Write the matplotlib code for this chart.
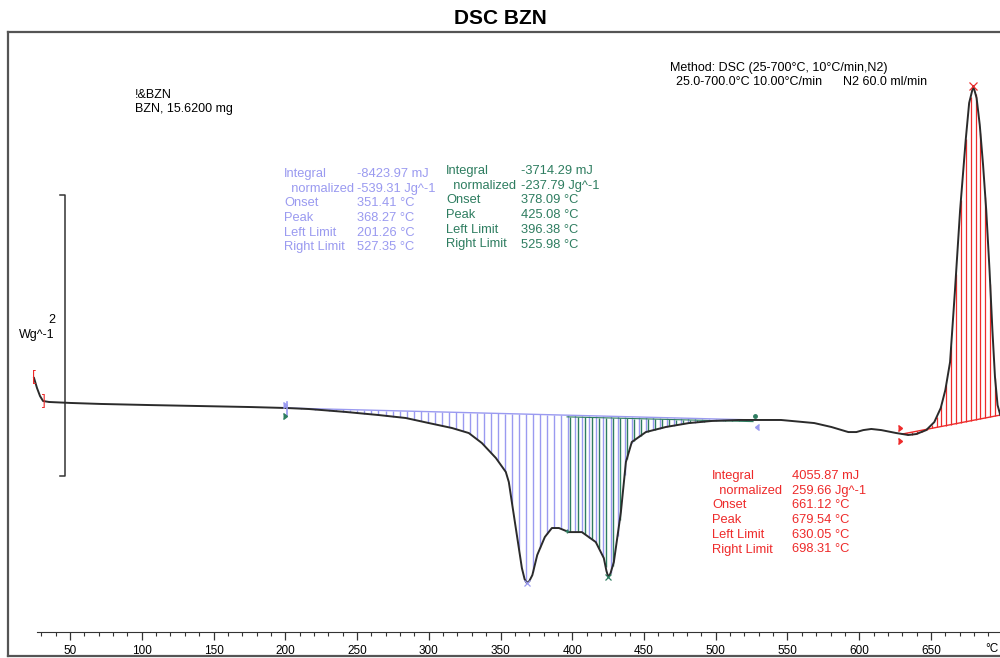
import numpy as np
import matplotlib.pyplot as plt
from matplotlib.lines import Line2D

# DSC curve (temperature in C, heat flow in W/g, offset arbitrary)
temp = [24.9, 27.0, 29.1, 31.2, 35.4, 50.7, 71.6, 106.4, 141.3, 176.1, 201.3, 216.5,
        242.2, 265.2, 284.0, 300.1, 316.1, 327.9, 337.0, 346.8, 353.7, 355.8, 357.9,
        361.4, 364.9, 366.8, 368.3, 370.0, 372.2, 375.6, 380.9, 385.8, 390.7, 397.6,
        406.7, 416.4, 422.0, 423.8, 425.1, 426.6, 429.0, 433.9, 437.4, 441.5, 451.3,
        465.2, 481.3, 497.3, 516.1, 527.4, 545.5, 568.7, 580.6, 592.4, 598.0, 602.8,
        608.4, 615.4, 625.8, 630.1, 634.2, 639.8, 646.7, 652.3, 656.8, 660.0, 663.3,
        666.6, 670.3, 674.2, 676.6, 679.5, 681.8, 684.0, 686.3, 688.5, 690.8, 692.8,
        694.6, 696.4, 698.3]
heat = [0.157, 0.085, 0.028, -0.007, -0.014, -0.021, -0.028, -0.036, -0.043, -0.050,
        -0.057, -0.064, -0.085, -0.107, -0.128, -0.164, -0.199, -0.235, -0.306, -0.413,
        -0.512, -0.584, -0.726, -0.961, -1.196, -1.275, -1.302, -1.290, -1.246, -1.103,
        -0.975, -0.911, -0.911, -0.940, -0.940, -1.011, -1.125, -1.215, -1.260, -1.235,
        -1.153, -0.797, -0.441, -0.299, -0.228, -0.192, -0.164, -0.149, -0.142, -0.142,
        -0.142, -0.164, -0.192, -0.228, -0.228, -0.214, -0.206, -0.214, -0.235, -0.242,
        -0.249, -0.242, -0.214, -0.157, -0.057, 0.071, 0.270, 0.762, 1.352, 1.851, 2.114,
        2.235, 2.149, 1.957, 1.673, 1.352, 0.925, 0.498, 0.164, -0.036, -0.107]

# integration limits and peaks
blue_lim = [201.26, 527.35]
green_lim = [396.38, 525.98]
red_lim = [630.05, 698.31]
peaks = [368.27, 425.08, 679.54]

x_ticks = [50, 100, 150, 200, 250, 300, 350, 400, 450, 500, 550, 600, 650]

labels = ['Integral', '  normalized', 'Onset', 'Peak', 'Left Limit', 'Right Limit']
blue_vals = ['-8423.97 mJ', '-539.31 Jg^-1', '351.41 °C', '368.27 °C', '201.26 °C', '527.35 °C']
green_vals = ['-3714.29 mJ', '-237.79 Jg^-1', '378.09 °C', '425.08 °C', '396.38 °C', '525.98 °C']
red_vals = ['4055.87 mJ', '259.66 Jg^-1', '661.12 °C', '679.54 °C', '630.05 °C', '698.31 °C']

blue_c = '#9a9af0'
green_c = '#2e7d60'
red_c = '#ee2a2a'
curve_c = '#2b2b2b'

plt.rcParams['font.family'] = ['Liberation Sans', 'DejaVu Sans']

W, H = 1000, 658
fig = plt.figure(figsize=(10, 6.58), dpi=100)

def fx(px):
    return px / W

def fy(py):
    return 1 - py / H

ax = fig.add_axes([0, 26 / H, 1, 632 / H])
ax.set_xlim(1.2, 698.1)
ax.set_ylim(-1.651, 2.847)
ax.patch.set_alpha(0)
for s in ['top', 'left', 'right']:
    ax.spines[s].set_visible(False)
ax.spines['bottom'].set_bounds(27, 698.1)
ax.spines['bottom'].set_color('#333333')
ax.set_yticks([])
ax.set_xticks(x_ticks)
ax.set_xticks(np.arange(30, 700, 10), minor=True)
ax.tick_params(axis='x', which='major', length=6, width=0.9, color='#333333',
               labelsize=8.5, pad=3)
ax.tick_params(axis='x', which='minor', length=3, width=0.8, color='#333333')
for lab in ax.get_xticklabels():
    lab.set_family(['Liberation Sans Narrow', 'Liberation Sans', 'DejaVu Sans'])
fig.text(fx(999), fy(649), '°C', ha='right', va='center', fontsize=8.5)

t = np.array(temp)
h = np.array(heat)

# blue integral hatch
bx = np.arange(blue_lim[0], blue_lim[1], 4.9)
b_curve = np.interp(bx, t, h)
b_y0 = np.interp(blue_lim[0], t, h)
b_y1 = np.interp(blue_lim[1], t, h)
b_base = np.interp(bx, blue_lim, [b_y0, b_y1])
ax.vlines(bx, b_base, b_curve, color=blue_c, lw=1.0, zorder=1)
ax.plot(blue_lim, [b_y0, b_y1], color=blue_c, lw=1.0, zorder=1)

# green integral hatch
gx = np.arange(green_lim[0] + 2.4, green_lim[1], 4.9)
g_curve = np.interp(gx, t, h)
g_base = np.interp(gx, blue_lim, [b_y0, b_y1]) - 0.012
ax.vlines(gx, g_base, g_curve, color=green_c, lw=1.0, zorder=1.5)
ax.plot(green_lim, np.interp(green_lim, blue_lim, [b_y0, b_y1]) - 0.012,
        color=green_c, lw=0.8, zorder=1.5)

# red integral hatch
rx = np.arange(red_lim[0], red_lim[1], 3.4)
r_curve = np.interp(rx, t, h)
r_y0 = np.interp(red_lim[0], t, h)
r_y1 = np.interp(red_lim[1], t, h)
r_base = np.interp(rx, red_lim, [r_y0, r_y1])
ax.vlines(rx, r_base, r_curve, color=red_c, lw=0.9, zorder=1)
ax.plot(red_lim, [r_y0, r_y1], color=red_c, lw=1.0, zorder=1)

ax.plot(t, h, color=curve_c, lw=1.4, zorder=3)

# limit markers
ax.text(temp[0], heat[0] + 0.01, '[', color=red_c, fontsize=10, ha='center', va='center', zorder=4)
ax.text(temp[3] + 0.8, heat[3], ']', color=red_c, fontsize=10, ha='center', va='center', zorder=4)
ax.plot([blue_lim[0]] * 2, [b_y0 + 0.04, b_y0 - 0.06], color=blue_c, lw=1.2, zorder=4)
ax.plot(blue_lim[0], b_y0 + 0.02, marker=5, ms=4, color=blue_c, zorder=4)
ax.plot(blue_lim[0], b_y0 - 0.06, marker=5, ms=4, color=green_c, zorder=4)
ax.plot(blue_lim[1], b_y1 + 0.03, marker='o', ms=2.5, color=green_c, zorder=4)
ax.plot(blue_lim[1], b_y1 - 0.05, marker=4, ms=4, color=blue_c, zorder=4)
ax.plot(red_lim[0], r_y0 + 0.04, marker=5, ms=4, color=red_c, zorder=4)
ax.plot(red_lim[0], r_y0 - 0.05, marker=5, ms=4, color=red_c, zorder=4)
ax.plot(red_lim[1], r_y1 + 0.04, marker=4, ms=4, color=red_c, zorder=4, clip_on=False)
ax.plot(green_lim[0], np.interp(green_lim[0], t, h), marker='+', ms=3, color=green_c, zorder=4)

# peak markers
ax.plot(peaks[0], np.interp(peaks[0], t, h), marker='x', ms=5, mew=0.9, color=blue_c, zorder=4)
ax.plot(peaks[1], np.interp(peaks[1], t, h), marker='x', ms=5, mew=0.9, color=green_c, zorder=4)
ax.plot(peaks[2], np.interp(peaks[2], t, h), marker='x', ms=6, mew=0.9, color=red_c, zorder=4)

# 2 W/g scale bar
ax.plot([43.2, 46.7, 46.7, 43.2], [1.459, 1.459, -0.541, -0.541], color='#333333', lw=1.1)
fig.text(fx(55), fy(320), '2', ha='right', va='center', fontsize=9)
fig.text(fx(55), fy(335), 'Wg^-1', ha='right', va='center', fontsize=9)

# outer frame
frame = '#555555'
fig.add_artist(Line2D([fx(8), fx(8)], [fy(32), fy(656)], color=frame, lw=1.6))
fig.add_artist(Line2D([fx(8), 1.0], [fy(32), fy(32)], color=frame, lw=1.6))
fig.add_artist(Line2D([fx(8), 1.0], [fy(656), fy(656)], color=frame, lw=1.6))

fig.text(0.5, fy(18), 'DSC BZN', ha='center', va='center', fontsize=15, fontweight='bold',
         family=['Liberation Sans Narrow', 'Liberation Sans', 'DejaVu Sans'])

fig.text(fx(135), fy(95), '!&BZN', fontsize=9, va='center')
fig.text(fx(135), fy(109), 'BZN, 15.6200 mg', fontsize=9, va='center')
fig.text(fx(670), fy(68), 'Method: DSC (25-700°C, 10°C/min,N2)', fontsize=9, va='center')
fig.text(fx(676), fy(82), '25.0-700.0°C 10.00°C/min', fontsize=9, va='center')
fig.text(fx(843), fy(82), 'N2 60.0 ml/min', fontsize=9, va='center')

def result_block(x_lab, x_val, y_top, vals, color):
    for i, (lab, val) in enumerate(zip(labels, vals)):
        y = y_top + i * 14.7
        fig.text(fx(x_lab), fy(y), lab, color=color, fontsize=9.3, va='center')
        fig.text(fx(x_val), fy(y), val, color=color, fontsize=9.3, va='center')

result_block(284, 357, 174, blue_vals, blue_c)
result_block(446, 521, 171, green_vals, green_c)
result_block(712, 792, 476, red_vals, red_c)

fig.savefig('out.png', dpi=100)
